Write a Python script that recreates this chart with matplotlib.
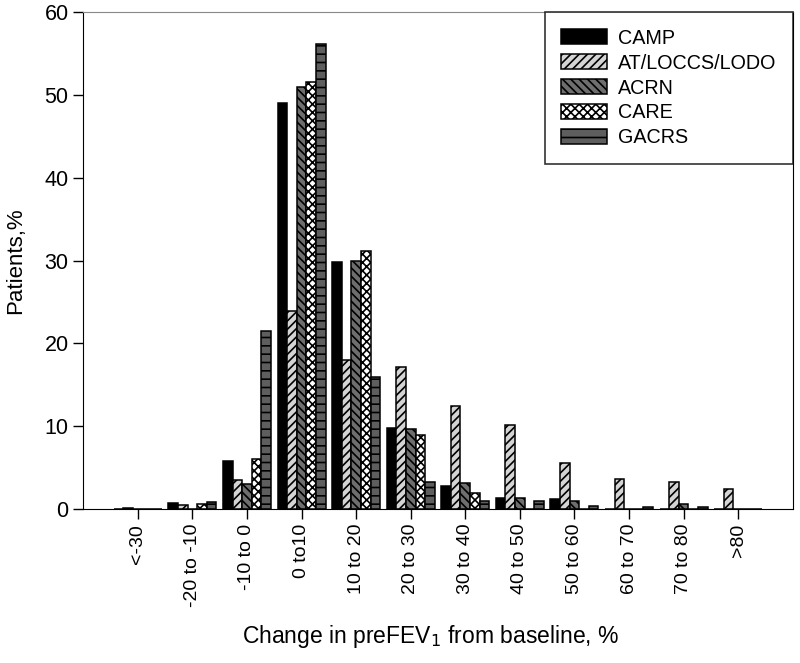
import numpy as np
import matplotlib.pyplot as plt

plt.rcParams['font.family'] = ['Liberation Sans', 'DejaVu Sans']
plt.rcParams['hatch.linewidth'] = 1.2

categories = ["<-30", "-20 to -10", "-10 to 0", "0 to10", "10 to 20", "20 to 30",
              "30 to 40", "40 to 50", "50 to 60", "60 to 70", "70 to 80", ">80"]

camp = [0, 0.8, 5.8, 49.0, 29.8, 9.8, 2.8, 1.3, 1.2, 0, 0, 0]
at_loccs = [0.2, 0.5, 3.5, 23.9, 18.0, 17.1, 12.4, 10.1, 5.6, 3.7, 3.3, 2.4]
acrn = [0, 0, 3.0, 50.9, 29.9, 9.7, 3.2, 1.3, 1.0, 0, 0.6, 0]
care = [0, 0.6, 6.1, 51.5, 31.1, 8.9, 2.0, 0, 0, 0, 0, 0]
gacrs = [0, 0.9, 21.5, 56.1, 16.0, 3.3, 1.0, 1.0, 0.4, 0.3, 0.3, 0]

series = [
    ("CAMP", camp, "black", ""),
    ("AT/LOCCS/LODO", at_loccs, "#d4d4d4", "////"),
    ("ACRN", acrn, "#6e6e6e", "\\\\\\\\"),
    ("CARE", care, "white", "xxxx"),
    ("GACRS", gacrs, "#5e5e5e", "--"),
]

fig = plt.figure(figsize=(8, 6.63), dpi=100)
ax = fig.add_axes([0.104, 0.232, 0.887, 0.750])

x = np.arange(len(categories))
w = 0.176
for i, (name, vals, fc, hatch) in enumerate(series):
    ax.bar(x + (i - 2) * w, vals, width=w, color=fc, edgecolor="black",
           hatch=hatch, linewidth=1.1, label=name)

ax.set_xlim(-1, 12)
ax.set_ylim(0, 60)
ax.set_yticks(range(0, 61, 10))
ax.set_xticks(x)
ax.set_xticklabels(categories, rotation=90, fontsize=14)
ax.tick_params(axis='y', labelsize=15.5, direction='out', length=7, width=1)
ax.tick_params(axis='x', direction='out', length=7, width=1)
ax.spines['top'].set_color('#888888')

ax.set_ylabel("Patients,%", fontsize=16)
ax.yaxis.set_label_coords(-0.080, 0.5)
ax.set_xlabel("Change in preFEV$_1$ from baseline, %", fontsize=16.5)
ax.xaxis.set_label_coords(0.49, -0.228)

leg = ax.legend(loc='upper right', fontsize=14.2, frameon=True, fancybox=False,
                edgecolor='black', borderpad=0.85, handlelength=2.3,
                handleheight=0.78, handletextpad=0.55, labelspacing=0.3,
                borderaxespad=0.0)
leg.get_frame().set_linewidth(1.2)

fig.savefig("out.png", dpi=100)
